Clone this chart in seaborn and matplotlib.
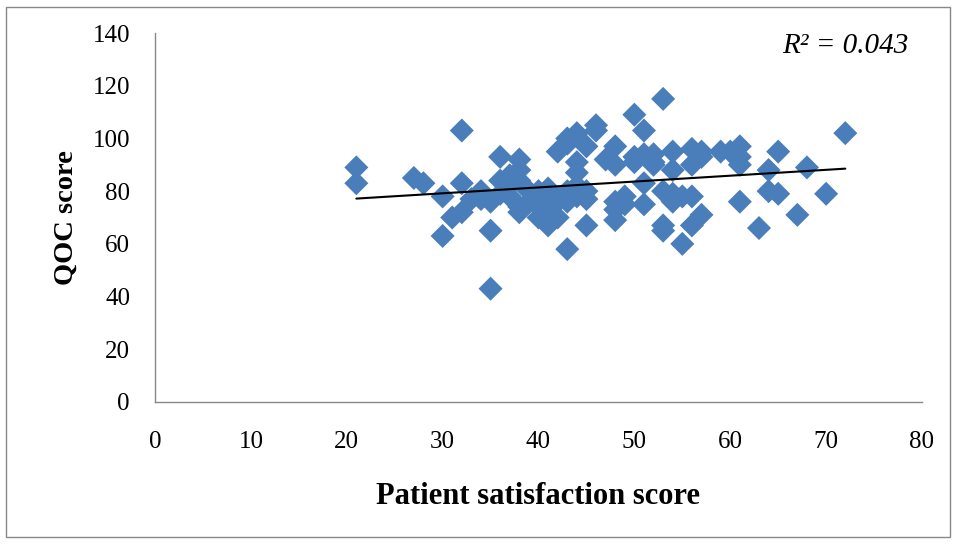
import matplotlib
matplotlib.use("Agg")
import matplotlib.pyplot as plt
import numpy as np
import pandas as pd
import seaborn as sns

# Patient satisfaction (x) vs QOC score (y)
satisfaction = [21, 21, 27, 28, 30, 30, 31, 32, 32, 32, 33, 34, 34, 35, 35, 35,
                36, 36, 36, 37, 37, 37, 38, 38, 38, 38, 38, 39, 39, 40, 40, 40,
                41, 41, 41, 41, 42, 42, 42, 43, 43, 43, 43, 43, 44, 44, 44, 44, 44,
                45, 45, 45, 45, 46, 46, 47, 48, 48, 48, 48, 48, 49, 49, 50, 50, 50,
                51, 51, 51, 51, 52, 52, 52, 53, 53, 53, 53, 54, 54, 54, 54, 55, 55,
                56, 56, 56, 56, 57, 57, 57, 59, 60, 61, 61, 61, 61, 63, 64, 64,
                65, 65, 67, 68, 70, 72]
qoc = [89, 83, 85, 83, 78, 63, 70, 103, 83, 72, 77, 80, 77, 65, 43, 76,
       93, 84, 79, 82, 78, 86, 92, 88, 84, 72, 74, 80, 76, 70, 80, 74,
       67, 72, 81, 78, 95, 70, 76, 98, 58, 80, 76, 100, 102, 91, 87, 78, 82,
       97, 67, 80, 77, 105, 103, 92, 97, 90, 76, 73, 69, 78, 75, 109, 93, 91,
       103, 94, 83, 75, 94, 91, 90, 115, 80, 67, 65, 95, 88, 79, 76, 78, 60,
       96, 90, 78, 67, 95, 93, 71, 95, 95, 97, 93, 90, 76, 66, 88, 80,
       95, 79, 71, 89, 79, 102]
r2_label = "R² = 0.043"

df = pd.DataFrame({"satisfaction": satisfaction, "qoc": qoc})

sns.set_style("white")
plt.rcParams["font.family"] = ["Liberation Serif", "DejaVu Serif"]
plt.rcParams["text.color"] = "black"
plt.rcParams["axes.labelcolor"] = "black"
plt.rcParams["xtick.color"] = "black"
plt.rcParams["ytick.color"] = "black"

fig = plt.figure(figsize=(9.57, 5.45), dpi=100)
ax = fig.add_axes([155 / 957, 1 - 402 / 545, (922 - 155) / 957, (402 - 33) / 545])

sns.scatterplot(data=df, x="satisfaction", y="qoc", marker="D", s=150,
                color="#4A7EBB", edgecolor="none", ax=ax, zorder=2)
sns.regplot(data=df, x="satisfaction", y="qoc", scatter=False, ci=None,
            line_kws={"color": "black", "lw": 1.5, "zorder": 3}, ax=ax)

ax.set_xlim(0, 80)
ax.set_ylim(0, 140)
ax.set_xticks(range(0, 81, 10))
ax.set_yticks(range(0, 141, 20))
ax.tick_params(axis="both", length=0, labelsize=18)
ax.tick_params(axis="x", pad=21)
ax.tick_params(axis="y", pad=18)
for side in ["top", "right"]:
    ax.spines[side].set_visible(False)
for side in ["left", "bottom"]:
    ax.spines[side].set_color("#888888")
    ax.spines[side].set_linewidth(1)

ax.set_xlabel("Patient satisfaction score", fontsize=22, fontweight="bold", labelpad=21)
ax.set_ylabel("QOC score", fontsize=20.5, fontweight="bold", labelpad=10)
ax.text(0.983, 1.0, r2_label, transform=ax.transAxes, ha="right", va="top",
        fontsize=21, style="italic")

# outer chart border like the Excel chart frame
border = plt.Rectangle((6 / 957, 8 / 545), 944 / 957, 530 / 545, transform=fig.transFigure,
                       fill=False, edgecolor="#888888", lw=1)
fig.patches.append(border)

fig.savefig("out.png", dpi=100)
